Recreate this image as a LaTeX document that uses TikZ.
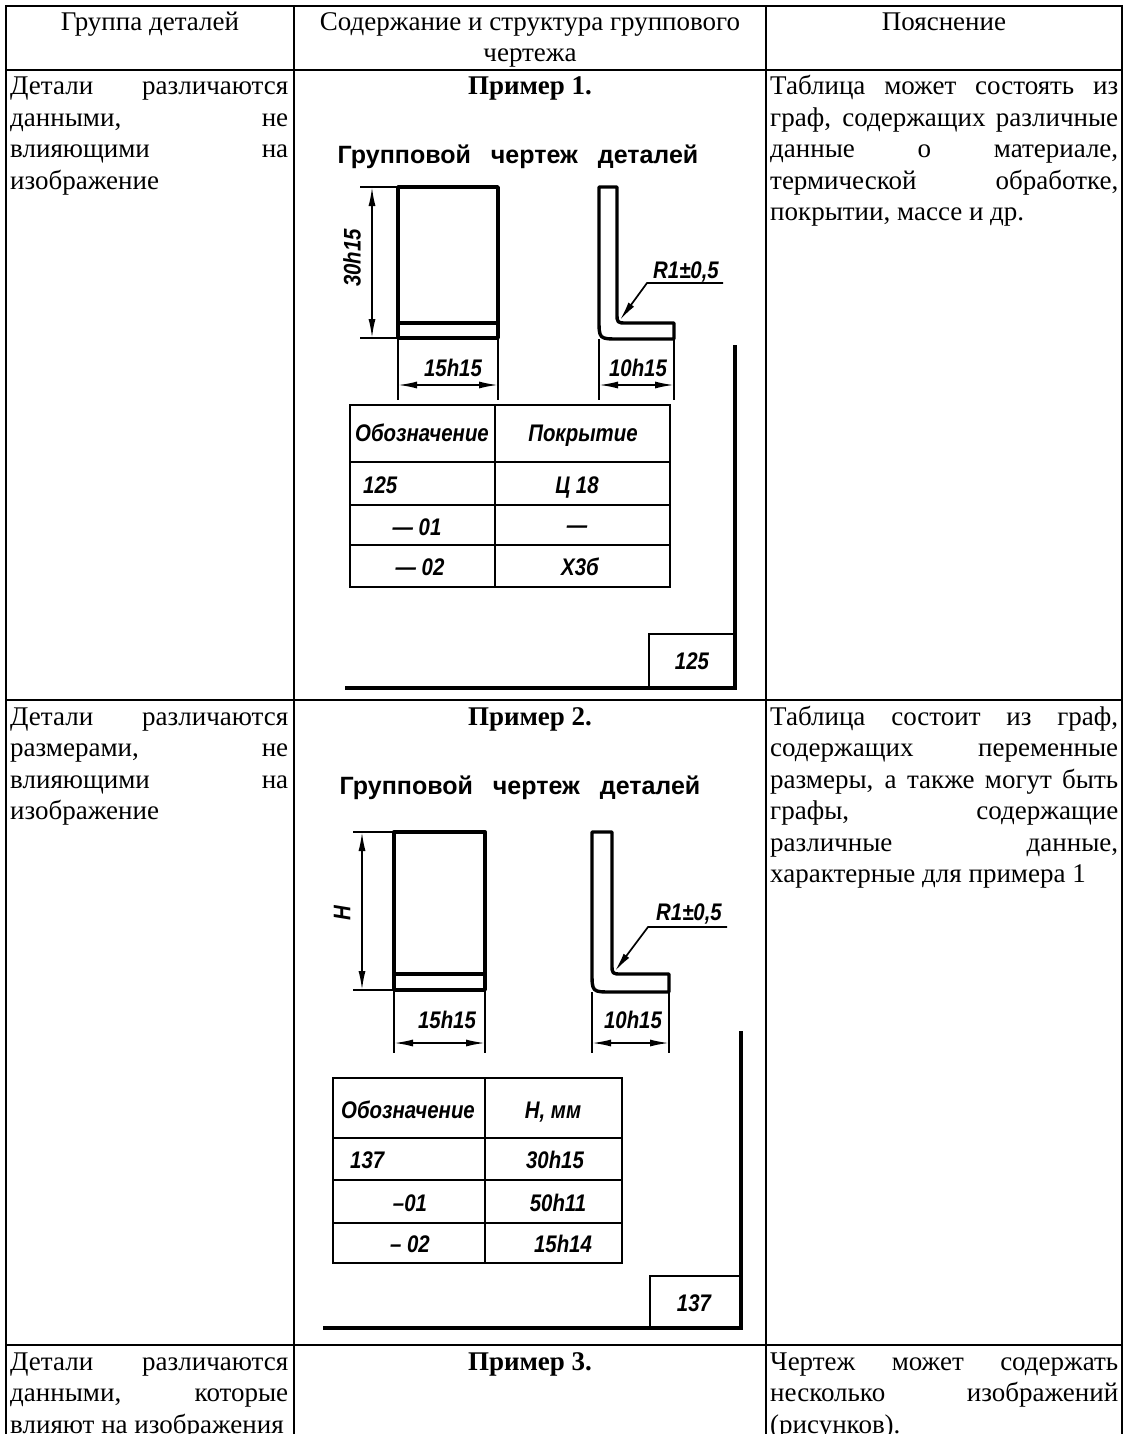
\documentclass[tikz,border=0pt]{standalone}
\usepackage{fontspec}
\setmainfont{Liberation Serif}
\newfontfamily\gostfont[FakeStretch=0.85]{Liberation Sans}
\newfontfamily\titlefont{Liberation Sans}
\usetikzlibrary{arrows.meta}
\tolerance=9999 \hbadness=10000 \hyphenpenalty=10000 \exhyphenpenalty=10000

\tikzset{
  cell/.style={line width=2pt, line cap=rect},
  celltext/.style={font=\fontsize{27}{31.5}\selectfont, inner sep=0pt, align=justify, anchor=base west},
  headtext/.style={font=\fontsize{27}{31.5}\selectfont, inner sep=0pt, align=center, anchor=base},
  exampletitle/.style={font=\fontsize{27}{31.5}\selectfont\bfseries, inner sep=0pt, anchor=base},
  drawtitle/.style={font=\titlefont\bfseries\fontsize{25}{30}\selectfont, inner sep=0pt, anchor=base},
  contour/.style={line width=3.4pt, line join=round},
  dimline/.style={line width=1.7pt},
  dimarrows/.style={dimline, {Latex[length=19pt,width=7pt]}-{Latex[length=19pt,width=7pt]}},
  leader/.style={dimline, {Latex[length=19pt,width=7pt]}-},
  dimtext/.style={font=\gostfont\bfseries\itshape\fontsize{24}{28}\selectfont, inner sep=0pt, anchor=base},
  tabline/.style={line width=2.8pt, line cap=rect},
  frameline/.style={line width=3.8pt, line cap=rect},
}

\begin{document}
\begin{tikzpicture}[x=1pt,y=-1pt]
\useasboundingbox (0,0) rectangle (1126,1434);
\clip (0,0) rectangle (1126,1434);

% Table grid
\foreach \y in {6,70,700,1345} \draw[cell] (6,\y) -- (1122,\y);
\foreach \x in {6,294,766,1122} \draw[cell] (\x,6) -- (\x,1440);

% Header
\node[headtext] (hgroup) at (150,31) {Группа деталей};
\node[headtext] (hcontent) at (530,62) {Содержание и структура группового\\чертежа};
\node[headtext] (hnote) at (944,31) {Пояснение};

% Row 1
\node[celltext, text width=278pt] (group1) at (10,95) {Детали различаются\linebreak данными, не\linebreak влияющими на\linebreak изображение};
\node[exampletitle] (example1) at (530,95) {Пример 1.};
\node[celltext, text width=348pt] (note1) at (770,95) {Таблица может состоять из\linebreak граф, содержащих различные\linebreak данные о материале,\linebreak термической обработке,\linebreak покрытии, массе и др.};

% Row 2
\node[celltext, text width=278pt] (group2) at (10,725) {Детали различаются\linebreak размерами, не\linebreak влияющими на\linebreak изображение};
\node[exampletitle] (example2) at (530,725) {Пример 2.};
\node[celltext, text width=348pt] (note2) at (770,725) {Таблица состоит из граф,\linebreak содержащих переменные\linebreak размеры, а также могут быть\linebreak графы, содержащие\linebreak различные данные,\linebreak характерные для примера 1};

% Row 3
\node[celltext, text width=278pt] (group3) at (10,1370) {Детали различаются\linebreak данными, которые\linebreak влияют на изображения};
\node[exampletitle] (example3) at (530,1370) {Пример 3.};
\node[celltext, text width=348pt] (note3) at (770,1370) {Чертеж может содержать\linebreak несколько изображений\linebreak (рисунков).};

%% Example 1
\node[drawtitle] (title1) at (518,164) {Групповой\hspace{20pt}чертеж\hspace{20pt}деталей};

% Front view
\draw[contour] (398,187) rectangle (498,338);
\draw[contour] (398,323) -- (498,323);

% Dimension 30h15
\draw[dimline] (360,187) -- (398,187);
\draw[dimline] (360,338) -- (398,338);
\draw[dimarrows] (372,187) -- (372,338);
\node[dimtext, rotate=90, anchor=center] (height1) at (352,258) {30h15};

% Dimension 15h15
\draw[dimline] (398,338) -- (398,400);
\draw[dimline] (498,338) -- (498,400);
\draw[dimarrows] (398,385) -- (498,385);
\node[dimtext] (width1) at (453,376) {15h15};

% Side view
\draw[contour] (599,187) -- (617,187) -- (617,313) .. controls (617,323) .. (627,323) -- (674,323) -- (674,339) -- (619,339) .. controls (599,339) .. (599,319) -- cycle;

% Radius
\coordinate (r1tip) at (620,320);
\coordinate (r1bend) at (647,283);
\coordinate (r1end) at (723,283);
\draw[leader] (r1tip) -- (r1bend) -- (r1end);
\node[dimtext] (radius1) at (686,278) {R1±0,5};

% Dimension 10h15
\draw[dimline] (599,339) -- (599,400);
\draw[dimline] (674,339) -- (674,400);
\draw[dimarrows] (599,385) -- (674,385);
\node[dimtext] (depth1) at (638,376) {10h15};

% Frame and stamp
\draw[frameline] (735,347) -- (735,688) -- (347,688);
\draw[tabline] (649,688) -- (649,634) -- (735,634);
\node[dimtext] (stamp1) at (692,669) {125};

% Table
\foreach \x in {350,495,670} \draw[tabline] (\x,405) -- (\x,587);
\foreach \y in {405,462,505,545,587} \draw[tabline] (350,\y) -- (670,\y);
\node[dimtext] (code1) at (422,441) {Обозначение};
\node[dimtext] (coat1) at (583,441) {Покрытие};
\node[dimtext, anchor=base west] (code1a) at (363,493) {125};
\node[dimtext] (coat1a) at (577,493) {Ц 18};
\node[dimtext] (code1b) at (417,535) {— 01};
\node[dimtext] (coat1b) at (577,533) {—};
\node[dimtext] (code1c) at (420,575) {— 02};
\node[dimtext] (coat1c) at (580,575) {Х3б};

%% Example 2
\node[drawtitle] (title2) at (520,794) {Групповой\hspace{20pt}чертеж\hspace{20pt}деталей};

% Front view
\draw[contour] (394,832) rectangle (485,990);
\draw[contour] (394,974) -- (485,974);

% Dimension H
\draw[dimline] (353,832) -- (394,832);
\draw[dimline] (353,990) -- (394,990);
\draw[dimarrows] (362,832) -- (362,990);
\node[dimtext, rotate=90, anchor=center] (height2) at (342,913) {H};

% Dimension 15h15
\draw[dimline] (394,990) -- (394,1053);
\draw[dimline] (485,990) -- (485,1053);
\draw[dimarrows] (394,1043) -- (485,1043);
\node[dimtext] (width2) at (447,1028) {15h15};

% Side view
\draw[contour] (592,832) -- (612,832) -- (612,964) .. controls (612,974) .. (622,974) -- (669,974) -- (669,992) -- (612,992) .. controls (592,992) .. (592,972) -- cycle;

% Radius
\coordinate (r2tip) at (615,971);
\coordinate (r2bend) at (648,927);
\coordinate (r2end) at (727,927);
\draw[leader] (r2tip) -- (r2bend) -- (r2end);
\node[dimtext] (radius2) at (689,920) {R1±0,5};

% Dimension 10h15
\draw[dimline] (592,992) -- (592,1053);
\draw[dimline] (669,992) -- (669,1053);
\draw[dimarrows] (592,1043) -- (669,1043);
\node[dimtext] (depth2) at (633,1028) {10h15};

% Frame and stamp
\draw[frameline] (741,1033) -- (741,1328) -- (325,1328);
\draw[tabline] (650,1328) -- (650,1276) -- (741,1276);
\node[dimtext] (stamp2) at (694,1311) {137};

% Table
\foreach \x in {333,485,622} \draw[tabline] (\x,1078) -- (\x,1263);
\foreach \y in {1078,1138,1180,1223,1263} \draw[tabline] (333,\y) -- (622,\y);
\node[dimtext] (code2) at (408,1118) {Обозначение};
\node[dimtext] (size2) at (553,1118) {H, мм};
\node[dimtext, anchor=base west] (code2a) at (350,1168) {137};
\node[dimtext] (size2a) at (555,1168) {30h15};
\node[dimtext] (code2b) at (410,1211) {–01};
\node[dimtext] (size2b) at (558,1211) {50h11};
\node[dimtext] (code2c) at (410,1252) {– 02};
\node[dimtext] (size2c) at (563,1252) {15h14};
\end{tikzpicture}
\end{document}
